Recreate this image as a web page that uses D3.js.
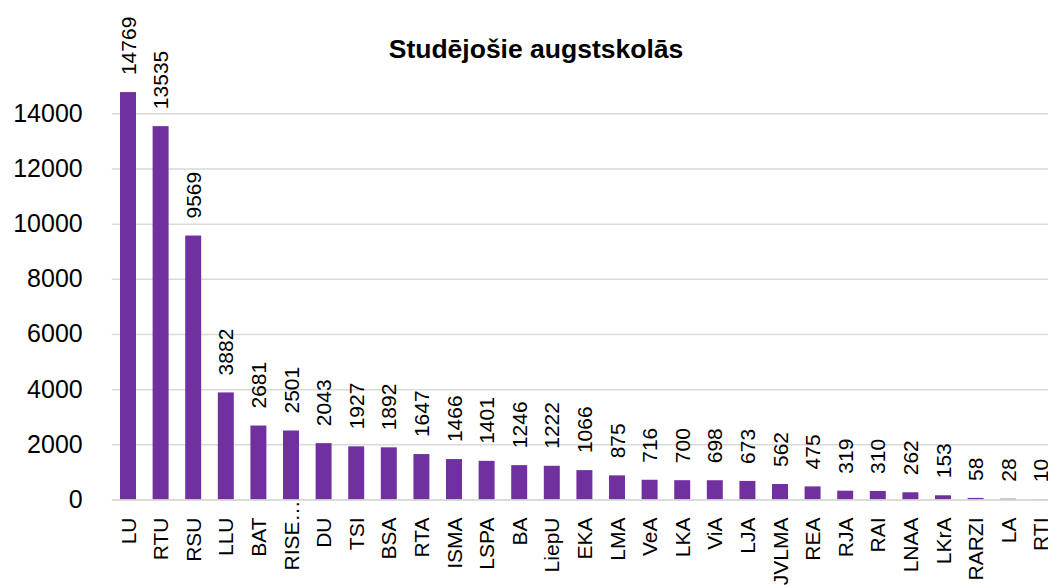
<!DOCTYPE html>
<html>
<head>
<meta charset="utf-8">
<script src="https://cdn.jsdelivr.net/npm/d3@7"></script>
<style>
  html, body { margin: 0; padding: 0; background: #fff; }
  svg { display: block; }
  text { font-family: "Liberation Sans", Arial, sans-serif; fill: #000; }
</style>
</head>
<body>
<svg id="chart" width="1048" height="587"></svg>
<script>
const categories = ["LU","RTU","RSU","LLU","BAT","RISE…","DU","TSI","BSA","RTA","ISMA","LSPA","BA","LiepU","EKA","LMA","VeA","LKA","ViA","LJA","JVLMA","REA","RJA","RAI","LNAA","LKrA","RARZI","LA","RTI"];
const values = [14769,13535,9569,3882,2681,2501,2043,1927,1892,1647,1466,1401,1246,1222,1066,875,716,700,698,673,562,475,319,310,262,153,58,28,10];
const yTicks = [0,2000,4000,6000,8000,10000,12000,14000];
const title = "Studējošie augstskolās";

const data = categories.map((c, i) => ({ name: c, value: values[i] }));

const svg = d3.select("#chart");
const plotLeft = 111.7, plotRight = 1057.1, plotTop = 113.3, plotBottom = 499.5;

const x = d3.scaleBand().domain(categories).range([plotLeft, plotRight]).paddingInner(0.51).paddingOuter(0.255);
const y = d3.scaleLinear().domain([0, 14000]).range([plotBottom, plotTop]);

// gridlines
const grid = svg.append("g").attr("transform", `translate(${plotLeft},0)`)
  .call(d3.axisLeft(y).tickValues(yTicks).tickSize(-(plotRight - plotLeft)).tickFormat(""));
grid.select(".domain").remove();
grid.selectAll(".tick line").attr("stroke", "#d9d9d9").attr("stroke-width", 1.5);

// y tick labels
const yAxis = svg.append("g").attr("transform", `translate(${plotLeft},0)`)
  .call(d3.axisLeft(y).tickValues(yTicks).tickSize(0).tickPadding(29).tickFormat(d3.format("d")));
yAxis.select(".domain").remove();
yAxis.selectAll("text").attr("font-size", 25).attr("font-family", "Liberation Sans, Arial, sans-serif").attr("fill", "#000");

// bars
svg.append("g").selectAll("rect").data(data).join("rect")
  .attr("x", d => x(d.name))
  .attr("y", d => y(d.value))
  .attr("width", x.bandwidth())
  .attr("height", d => y(0) - y(d.value))
  .attr("fill", "#7030A0");

// value labels
svg.append("g").selectAll("text").data(data).join("text")
  .attr("transform", d => `translate(${x(d.name) + x.bandwidth() / 2},${y(d.value) - 17}) rotate(-90)`)
  .attr("text-anchor", "start")
  .attr("dy", "0.36em")
  .attr("font-size", 21)
  .text(d => d.value);

// category axis
const xAxis = svg.append("g").attr("transform", `translate(0,${plotBottom})`)
  .call(d3.axisBottom(x).tickSize(0).tickPadding(0));
xAxis.select(".domain").attr("stroke", "#d9d9d9").attr("stroke-width", 1.5);
xAxis.selectAll(".tick text")
  .attr("font-size", 21)
  .attr("font-family", "Liberation Sans, Arial, sans-serif")
  .attr("fill", "#000")
  .attr("text-anchor", "end")
  .attr("transform", d => d.endsWith("…") ? "translate(0,1) rotate(-90)" : "translate(0,18) rotate(-90)")
  .attr("x", 0).attr("y", 0)
  .attr("dy", "0.36em");

// title
svg.append("text")
  .attr("x", 536).attr("y", 58)
  .attr("text-anchor", "middle")
  .attr("font-size", 26.5)
  .attr("font-weight", "bold")
  .text(title);
</script>
</body>
</html>
